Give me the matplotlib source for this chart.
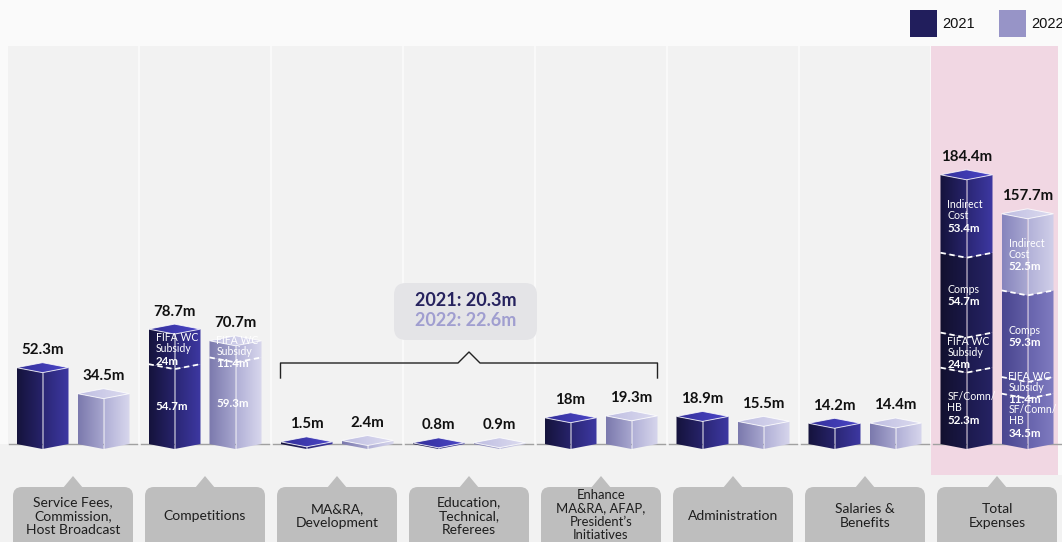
import numpy as np
import matplotlib
matplotlib.use("Agg")
import matplotlib.pyplot as plt
from matplotlib.patches import Polygon, Rectangle, FancyBboxPatch
from matplotlib.colors import LinearSegmentedColormap

# ---- data ----
categories = ["Service Fees,\nCommission,\nHost Broadcast", "Competitions", "MA&RA,\nDevelopment",
              "Education,\nTechnical,\nReferees", "Enhance\nMA&RA, AFAP,\nPresident’s\nInitiatives",
              "Administration", "Salaries &\nBenefits", "Total\nExpenses"]
exp_2021 = [52.3, 78.7, 1.5, 0.8, 18.0, 18.9, 14.2]
exp_2022 = [34.5, 70.7, 2.4, 0.9, 19.3, 15.5, 14.4]
# competitions split: [competitions, FIFA WC subsidy]
comp_parts = ["", "FIFA WC\nSubsidy"]
comp_2021 = [54.7, 24.0]
comp_2022 = [59.3, 11.4]
# total expenses stack (bottom -> top)
total_parts = ["SF/Comn/\nHB", "FIFA WC\nSubsidy", "Comps", "Indirect\nCost"]
total_2021 = [52.3, 24.0, 54.7, 53.4]
total_2022 = [34.5, 11.4, 59.3, 52.5]
bracket_cols = [2, 3, 4]
years = ["2021", "2022"]

# ---- layout (pixels) ----
W_PX, H_PX = 1062, 542
X0, PX = 73, 132.0       # first column centre, column pitch
Y0, PPM = 444, 1.46      # baseline, pixels per million

def dx(px):
    return (px - X0) / PX

def dy(py):
    return (Y0 - py) / PPM

W = 26 / PX      # half bar width
D = 5 / PPM      # perspective drop
OFF = 30.5 / PX  # bar offset from column centre

LATO = "Lato"

# colours: (left face, right face) gradients, top face gradient
C21 = [(("#15133c", "#27236b"), ("#2b2775", "#3d38a2"))]
C21_TOP = ("#332f98", "#4b46c8")
C22 = [(("#7b79ad", "#a8a7cf"), ("#b0afd6", "#d8d7ed"))]
C22_TOP = ("#bebde1", "#dddcf0")
T21_LOW = (("#12102e", "#1a1848"), ("#1c1a4e", "#262364"))
T22_LOW = (("#4a4690", "#625ea6"), ("#6763ac", "#7f7bc0"))
T22_HI = (("#8684bd", "#aaa9d2"), ("#b2b1d8", "#d0cfe9"))


def grad_poly(ax, verts, c0, c1, z):
    poly = Polygon(verts, closed=True, fc="none", ec="none", zorder=z)
    ax.add_patch(poly)
    xs = [v[0] for v in verts]
    ys = [v[1] for v in verts]
    cmap = LinearSegmentedColormap.from_list("g", [c0, c1])
    im = ax.imshow(np.linspace(0, 1, 64).reshape(1, -1), cmap=cmap, aspect="auto",
                   extent=(min(xs), max(xs), min(ys), max(ys) + 1e-6),
                   interpolation="bilinear", zorder=z)
    im.set_clip_path(poly)


def draw_bar(ax, xc, parts, styles, top_style, z=3):
    h = sum(parts)
    b = 0
    for v, (lc, rc) in zip(parts, styles):
        t = b + v
        grad_poly(ax, [(xc - W, b), (xc - W, t), (xc, t - D), (xc, b - D)], *lc, z)
        grad_poly(ax, [(xc, b - D), (xc, t - D), (xc + W, t), (xc + W, b)], *rc, z)
        b = t
    for c in np.cumsum(parts)[:-1]:
        ax.plot([xc - W, xc, xc + W], [c, c - D, c], color="white", lw=1.3,
                ls=(0, (3, 2)), zorder=z + 1)
    top = [(xc - W, h), (xc, h - D), (xc + W, h), (xc, h + D)]
    grad_poly(ax, top, *top_style, z)
    ax.plot([xc, xc], [-D, h - D], color="white", alpha=0.55, lw=0.6, zorder=z + 1)
    ax.add_patch(Polygon(top, closed=True, fill=False, ec="white", lw=0.7, alpha=0.8, zorder=z + 1))
    ax.annotate(f"{h:g}m", (xc, h + D), xytext=(0, 4), textcoords="offset points",
                ha="center", va="bottom", fontsize=10.8, fontweight="bold",
                family=LATO, color="#111111", zorder=6)
    return h


def seg_label(ax, xc, b0, b1, name, value):
    x = xc - W + 7 / PX
    yc = (b0 + b1) / 2 - D / 2
    L = 8.6
    n = name.count("\n") + 1 if name else 0
    if name:
        ax.annotate(name, (x, yc), xytext=(0, L / 2), textcoords="offset points",
                    ha="left", va="center", fontsize=7.6, family=LATO, color="white",
                    linespacing=1.0, zorder=6)
    ax.annotate(f"{value:g}m", (x, yc), xytext=(0, -n * L / 2), textcoords="offset points",
                ha="left", va="center", fontsize=8.3, fontweight="bold", family=LATO,
                color="white", zorder=6)


fig = plt.figure(figsize=(W_PX / 100, H_PX / 100), dpi=100)
fig.patch.set_facecolor("#f2f2f2")

deco = fig.add_axes([0, 0, 1, 1], zorder=0)
deco.set_xlim(0, W_PX)
deco.set_ylim(H_PX, 0)
deco.axis("off")

ax = fig.add_axes([0, 0, 1, 1], zorder=1)
ax.patch.set_alpha(0)
ax.axis("off")
ax.set_autoscale_on(False)
ax.set_xlim(dx(0), dx(W_PX))
ax.set_ylim(dy(H_PX), dy(0))

# backgrounds
deco.add_patch(Rectangle((0, 0), W_PX, 46, color="#fafafa", lw=0))
deco.add_patch(Rectangle((0, 0), 8, Y0, color="#fafafa", lw=0))
deco.add_patch(Rectangle((1058, 0), 4, 475, color="#fafafa", lw=0))
for i in range(len(categories) - 1):
    deco.add_patch(Rectangle((X0 + PX * i + 64.5, 46), 2.5, Y0 - 46, color="#f9f9f9", lw=0))
deco.add_patch(Rectangle((931, 46), 127, 429, color="#f1d7e3", lw=0))

# category label boxes
for i, lab in enumerate(categories):
    c = X0 + PX * i
    deco.add_patch(FancyBboxPatch((c - 60, 487), 120, 70, boxstyle="round,pad=0,rounding_size=9",
                                  fc="#bebebe", ec="none"))
    deco.add_patch(Polygon([(c - 10, 488), (c, 476), (c + 10, 488)], closed=True, fc="#bebebe", ec="none"))
    n = lab.count("\n") + 1
    deco.text(c, 516 if n < 4 else 515, lab, ha="center", va="center", family=LATO,
              fontsize=10 if n < 4 else 9.4, linespacing=1.15 if n < 4 else 1.12, color="#1e1e1e")

# legend
for k, (yr, col) in enumerate(zip(years, ["#211e5c", "#9794c7"])):
    x = 910 + 89 * k
    deco.add_patch(Rectangle((x, 10), 27, 27, color=col, lw=0))
    deco.text(x + 32, 24, yr, va="center", ha="left", fontsize=10.5,
              family="Liberation Sans", color="#111111")

# baseline
for i in range(len(categories)):
    ax.plot([i - 0.485, i + 0.485], [0, 0], color="#a0a0a0", lw=1, zorder=1)

# bars
for i, (a, b) in enumerate(zip(exp_2021, exp_2022)):
    if categories[i] == "Competitions":
        draw_bar(ax, i - OFF, comp_2021, C21 * 2, C21_TOP)
        draw_bar(ax, i + OFF, comp_2022, C22 * 2, C22_TOP)
        for xc, vals in [(i - OFF, comp_2021), (i + OFF, comp_2022)]:
            cum = np.concatenate([[0], np.cumsum(vals)])
            for j, (nm, v) in enumerate(zip(comp_parts, vals)):
                seg_label(ax, xc, cum[j], cum[j + 1], nm, v)
    else:
        draw_bar(ax, i - OFF, [a], C21, C21_TOP)
        draw_bar(ax, i + OFF, [b], C22, C22_TOP)

it = len(categories) - 1
draw_bar(ax, it - OFF, total_2021, [T21_LOW] * 3 + C21, C21_TOP)
draw_bar(ax, it + OFF, total_2022, [T22_LOW] * 3 + [T22_HI], C22_TOP)
for xc, vals in [(it - OFF, total_2021), (it + OFF, total_2022)]:
    cum = np.concatenate([[0], np.cumsum(vals)])
    for j, (nm, v) in enumerate(zip(total_parts, vals)):
        seg_label(ax, xc, cum[j], cum[j + 1], nm, v)

# bracket over MA&RA / Education / Enhance
xl = bracket_cols[0] - OFF - W
xr = bracket_cols[-1] + OFF + W
xm = (bracket_cols[0] + bracket_cols[-1]) / 2
yb, yt, yp = dy(378), dy(363), dy(352)
cw = 11 / PX
ax.plot([xl, xl, xm - cw, xm, xm + cw, xr, xr], [yb, yt, yt, yp, yt, yt, yb],
        color="#222222", lw=1, zorder=2)

s21 = sum(exp_2021[c] for c in bracket_cols)
s22 = sum(exp_2022[c] for c in bracket_cols)
cx = X0 + PX * xm - 3.5
deco.add_patch(FancyBboxPatch((cx - 71.5, 283), 143, 57, boxstyle="round,pad=0,rounding_size=12",
                              fc="#e4e4e7", ec="none"))
deco.text(cx, 301, f"2021: {s21:.1f}m", ha="center", va="center", fontsize=13,
          fontweight="bold", family=LATO, color="#26225e")
deco.text(cx, 321, f"2022: {s22:.1f}m", ha="center", va="center", fontsize=13,
          fontweight="bold", family=LATO, color="#a09ed0")

fig.savefig("out.png", dpi=100, facecolor=fig.get_facecolor())
